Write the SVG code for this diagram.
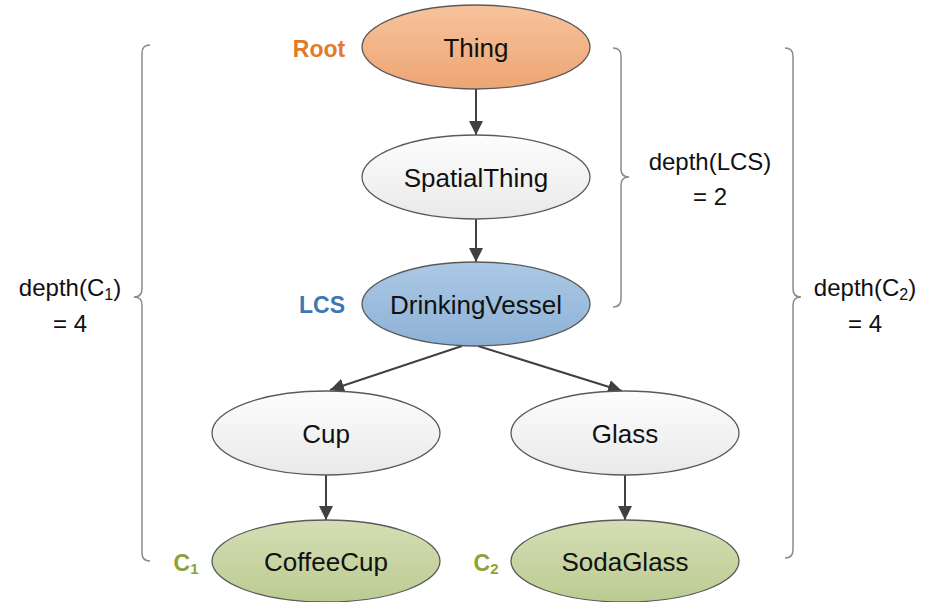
<svg xmlns="http://www.w3.org/2000/svg" width="933" height="602" viewBox="0 0 933 602">
<style>
.node{stroke:#5a5a5a;stroke-width:1.3;}
.nt{font-family:"Liberation Sans",Arial,sans-serif;font-size:26px;fill:#111;text-anchor:middle;}
.lab{font-family:"Liberation Sans",Arial,sans-serif;font-size:23px;font-weight:bold;text-anchor:middle;}
.dt{font-family:"Liberation Sans",Arial,sans-serif;font-size:24px;fill:#111;text-anchor:middle;}
.brace{fill:none;stroke:#8a8a8a;stroke-width:1.5;}
.conn{stroke:#404040;stroke-width:2;fill:none;marker-end:url(#arr);}
</style>
<defs>
<linearGradient id="gO" x1="0" y1="0" x2="0" y2="1"><stop offset="0" stop-color="#f7c39c"/><stop offset="1" stop-color="#eda574"/></linearGradient>
<linearGradient id="gW" x1="0" y1="0" x2="0" y2="1"><stop offset="0" stop-color="#fdfdfd"/><stop offset="1" stop-color="#e9e9e9"/></linearGradient>
<linearGradient id="gB" x1="0" y1="0" x2="0" y2="1"><stop offset="0" stop-color="#acc9e5"/><stop offset="1" stop-color="#8db1d6"/></linearGradient>
<linearGradient id="gG" x1="0" y1="0" x2="0" y2="1"><stop offset="0" stop-color="#d4deb4"/><stop offset="1" stop-color="#bccb92"/></linearGradient>
<marker id="arr" viewBox="0 0 10 10" refX="10" refY="5" markerUnits="userSpaceOnUse" markerWidth="14" markerHeight="14" orient="auto"><path d="M0,0 L10,5 L0,10 z" fill="#404040"/></marker>
</defs>
<rect width="933" height="602" fill="#ffffff"/>
<g id="braces">
<path class="brace" d="M150,45 Q142,45 142,53 L142,289 Q142,297 134,297 Q142,297 142,305 L142,553 Q142,561 150,561"/>
<path class="brace" d="M613,48 Q621,48 621,56 L621,169 Q621,177 629,177 Q621,177 621,185 L621,299 Q621,307 613,307"/>
<path class="brace" d="M785,48 Q793,48 793,56 L793,289 Q793,297 801,297 Q793,297 793,305 L793,550 Q793,558 785,558"/>
</g>
<g id="depth-labels">
<text class="dt" x="70" y="296">depth(C<tspan font-size="16" dy="4">1</tspan><tspan dy="-4">)</tspan></text>
<text class="dt" x="70" y="332">= 4</text>
<text class="dt" x="710" y="170">depth(LCS)</text>
<text class="dt" x="710" y="205">= 2</text>
<text class="dt" x="865" y="296">depth(C<tspan font-size="16" dy="4">2</tspan><tspan dy="-4">)</tspan></text>
<text class="dt" x="865" y="332">= 4</text>
</g>
<g id="connectors">
<line class="conn" x1="476" y1="89" x2="476" y2="135"/>
<line class="conn" x1="476" y1="219" x2="476" y2="262"/>
<line class="conn" x1="462" y1="346" x2="330" y2="390"/>
<line class="conn" x1="478" y1="346" x2="622" y2="391"/>
<line class="conn" x1="326" y1="475" x2="326" y2="520"/>
<line class="conn" x1="625" y1="475" x2="625" y2="520"/>
</g>
<g id="thing">
<ellipse class="node" cx="476" cy="47" rx="114" ry="42" fill="url(#gO)"/>
<text class="nt" x="476" y="57">Thing</text>
<text class="lab" x="319" y="57" fill="#e07a2c">Root</text>
</g>
<g id="spatialthing">
<ellipse class="node" cx="476" cy="177" rx="114" ry="42" fill="url(#gW)"/>
<text class="nt" x="476" y="187">SpatialThing</text>
</g>
<g id="drinkingvessel">
<ellipse class="node" cx="476" cy="304" rx="114" ry="42" fill="url(#gB)"/>
<text class="nt" x="476" y="314">DrinkingVessel</text>
<text class="lab" x="322" y="313" fill="#3d78b4">LCS</text>
</g>
<g id="cup">
<ellipse class="node" cx="326" cy="433" rx="114" ry="42" fill="url(#gW)"/>
<text class="nt" x="326" y="443">Cup</text>
</g>
<g id="glass">
<ellipse class="node" cx="625" cy="433" rx="114" ry="42" fill="url(#gW)"/>
<text class="nt" x="625" y="443">Glass</text>
</g>
<g id="coffeecup">
<ellipse class="node" cx="326" cy="561" rx="114" ry="41" fill="url(#gG)"/>
<text class="nt" x="326" y="571">CoffeeCup</text>
<text class="lab" x="186" y="571" fill="#8ea23a">C<tspan font-size="15" dy="3">1</tspan></text>
</g>
<g id="sodaglass">
<ellipse class="node" cx="625" cy="561" rx="114" ry="41" fill="url(#gG)"/>
<text class="nt" x="625" y="571">SodaGlass</text>
<text class="lab" x="486" y="571" fill="#8ea23a">C<tspan font-size="15" dy="3">2</tspan></text>
</g>
</svg>
